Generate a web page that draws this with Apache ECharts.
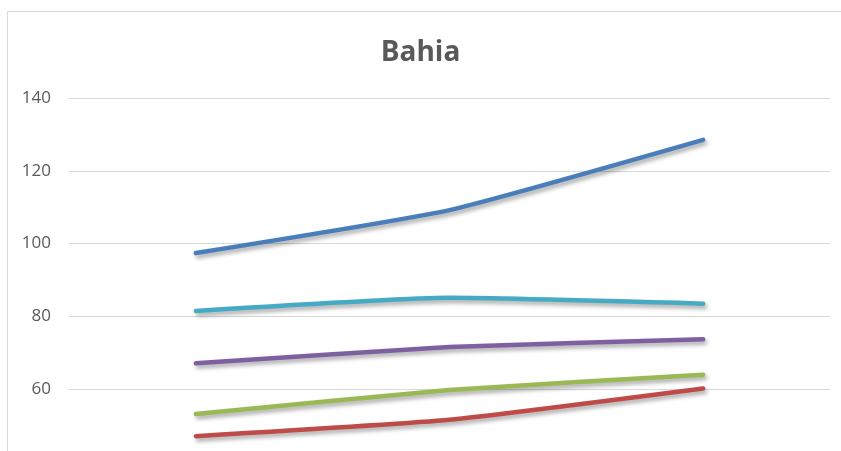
<!DOCTYPE html>
<html>
<head>
<meta charset="utf-8">
<script src="https://cdn.jsdelivr.net/npm/echarts@6/dist/echarts.min.js"></script>
<style>html,body{margin:0;padding:0;background:#fff;overflow:hidden}#c{width:841px;height:480px}</style>
</head>
<body>
<div id="c"></div>
<script>
const categories = ['1', '2', '3'];
const serieBlue = [97.4, 109.2, 128.5];
const serieRed = [47.1, 51.6, 60.2];
const serieGreen = [53.2, 59.8, 64.0];
const seriePurple = [67.1, 71.6, 73.7];
const serieCyan = [81.5, 85.1, 83.5];
const yTicks = [40, 60, 80, 100, 120, 140];

const chart = echarts.init(document.getElementById('c'), null, {renderer: 'canvas'});
const mk = (name, data, color) => ({
  name, type: 'line', data, smooth: 0.15, symbol: 'none',
  lineStyle: {color, width: 4.5, cap: 'round', join: 'round',
    shadowColor: 'rgba(0,0,0,0.35)', shadowBlur: 4, shadowOffsetX: 2, shadowOffsetY: 3}
});
chart.setOption({
  backgroundColor: '#fff',
  animation: false,
  title: {text: 'Bahia', left: 'center', top: 34,
    textStyle: {fontFamily: 'Open Sans', fontWeight: 'bold', fontSize: 28, color: '#595959'}},
  graphic: [{type: 'rect', shape: {x: 7.5, y: 11.5, width: 840, height: 460},
    style: {fill: 'none', stroke: '#d9d9d9', lineWidth: 1}, silent: true}],
  grid: {left: 69, right: 11, top: 98, height: 364},
  xAxis: {type: 'category', data: categories, boundaryGap: true,
    axisLine: {show: false}, axisTick: {show: false}, axisLabel: {show: false}},
  yAxis: {type: 'value', min: yTicks[0], max: yTicks[yTicks.length - 1], interval: 20,
    axisLine: {show: false}, axisTick: {show: false},
    axisLabel: {margin: 18, fontFamily: 'Open Sans', fontSize: 17, color: '#595959'},
    splitLine: {lineStyle: {color: '#d9d9d9', width: 1}}},
  series: [
    mk('Série 1', serieBlue, '#4A7EBB'),
    mk('Série 2', serieRed, '#BE4B48'),
    mk('Série 3', serieGreen, '#98B954'),
    mk('Série 4', seriePurple, '#7D60A0'),
    mk('Série 5', serieCyan, '#46AAC5')
  ]
});
</script>
</body>
</html>
